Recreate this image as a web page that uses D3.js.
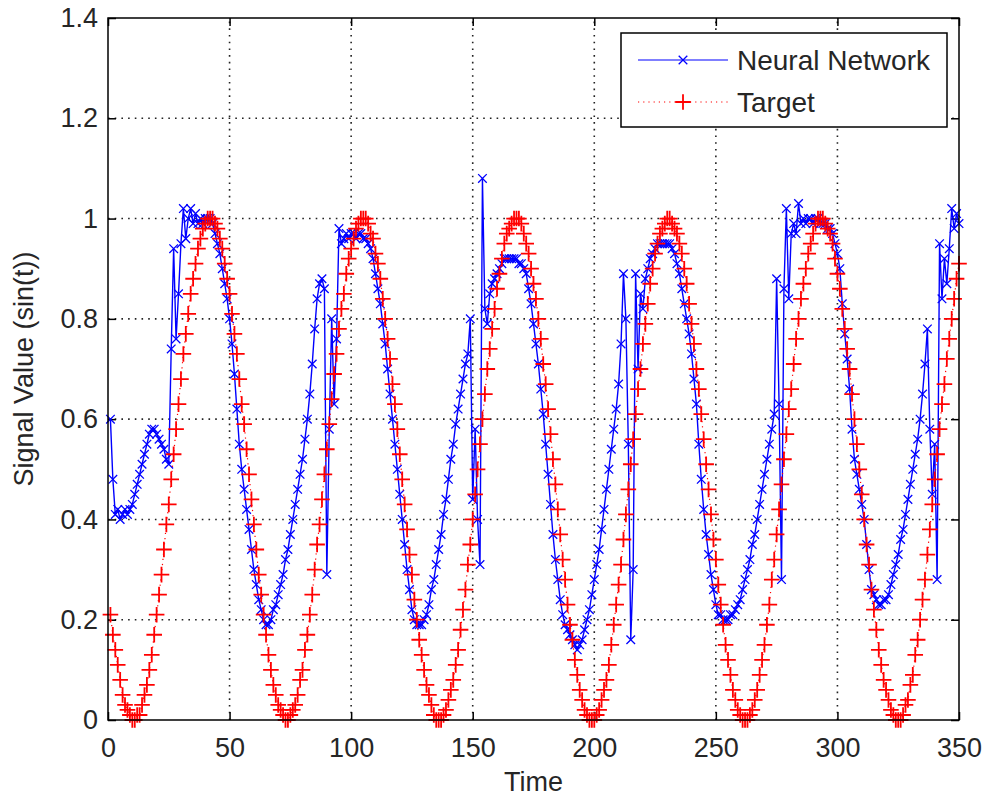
<!DOCTYPE html>
<html><head><meta charset="utf-8">
<script src="https://cdn.jsdelivr.net/npm/d3@7"></script>
<style>
body{margin:0;background:#fff}
svg{display:block}
text{font-family:"Liberation Sans",Arial,Helvetica,sans-serif;fill:#262626}
</style>
</head><body>
<svg id="chart" width="989" height="802"></svg>
<script>
// ---------- data ----------
const timeSteps = d3.range(1, 351);

const neuralNetwork = [
0.60,0.48,0.41,0.42,0.40,0.41,0.42,0.41,0.42,0.43,
0.45,0.47,0.49,0.51,0.53,0.55,0.57,0.58,0.58,0.57,
0.56,0.55,0.54,0.52,0.51,0.74,0.94,0.76,0.85,0.95,
1.02,0.96,1.00,1.02,0.99,1.01,0.99,1.00,0.99,1.00,
1.00,1.00,0.99,0.97,0.95,0.93,0.90,0.87,0.84,0.80,
0.75,0.69,0.62,0.55,0.50,0.46,0.42,0.38,0.34,0.30,
0.27,0.24,0.22,0.20,0.19,0.19,0.20,0.22,0.23,0.25,
0.27,0.29,0.32,0.34,0.37,0.40,0.43,0.46,0.49,0.52,
0.56,0.60,0.65,0.71,0.78,0.84,0.87,0.88,0.86,0.29,
0.58,0.80,0.63,0.76,0.98,0.95,0.96,0.97,0.96,0.97,
0.97,0.96,0.97,0.97,0.96,0.96,0.95,0.94,0.92,0.89,
0.86,0.83,0.79,0.75,0.70,0.65,0.60,0.55,0.50,0.45,
0.40,0.35,0.30,0.26,0.22,0.20,0.19,0.19,0.19,0.20,
0.21,0.23,0.26,0.28,0.31,0.34,0.37,0.41,0.44,0.48,
0.52,0.55,0.59,0.62,0.65,0.68,0.71,0.73,0.80,0.44,
0.58,0.40,0.31,1.08,0.82,0.79,0.85,0.87,0.88,0.89,
0.90,0.91,0.92,0.92,0.92,0.92,0.92,0.92,0.91,0.91,
0.90,0.89,0.86,0.83,0.79,0.75,0.71,0.66,0.61,0.55,
0.49,0.43,0.37,0.32,0.28,0.24,0.21,0.19,0.18,0.17,
0.16,0.15,0.14,0.15,0.16,0.18,0.20,0.22,0.25,0.28,
0.31,0.34,0.38,0.42,0.46,0.50,0.54,0.58,0.62,0.67,
0.75,0.89,0.80,0.55,0.16,0.30,0.89,0.70,0.85,0.82,
0.88,0.90,0.92,0.93,0.94,0.95,0.95,0.95,0.95,0.95,
0.95,0.94,0.93,0.91,0.89,0.86,0.83,0.80,0.77,0.73,
0.68,0.63,0.55,0.48,0.42,0.37,0.33,0.29,0.26,0.23,
0.21,0.21,0.20,0.20,0.20,0.21,0.21,0.22,0.23,0.24,
0.26,0.28,0.30,0.32,0.35,0.37,0.40,0.43,0.46,0.49,
0.52,0.55,0.58,0.61,0.88,0.63,0.28,0.86,1.02,0.84,
0.97,0.99,0.97,1.03,0.99,1.00,0.99,1.00,1.00,0.99,
1.00,1.00,0.99,0.99,0.99,0.98,0.98,0.97,0.95,0.93,
0.90,0.83,0.77,0.72,0.66,0.58,0.52,0.49,0.46,0.43,
0.40,0.35,0.30,0.26,0.25,0.24,0.23,0.23,0.24,0.24,
0.25,0.27,0.29,0.31,0.33,0.36,0.38,0.41,0.44,0.47,
0.50,0.53,0.56,0.60,0.65,0.71,0.78,0.58,0.45,0.55,
0.28,0.95,0.84,0.92,0.87,0.94,1.02,0.98,1.01,0.99
];

const target = [
0.21,0.17,0.14,0.11,0.08,0.05,0.03,0.02,0.01,0.00,
0.00,0.01,0.01,0.03,0.05,0.07,0.10,0.13,0.17,0.21,
0.25,0.29,0.34,0.39,0.43,0.48,0.53,0.58,0.63,0.68,
0.73,0.77,0.81,0.85,0.88,0.91,0.94,0.96,0.98,0.99,
1.00,1.00,1.00,0.99,0.98,0.96,0.94,0.91,0.88,0.85,
0.81,0.77,0.73,0.68,0.63,0.59,0.54,0.49,0.44,0.39,
0.34,0.29,0.25,0.21,0.17,0.13,0.10,0.07,0.05,0.03,
0.02,0.01,0.00,0.00,0.01,0.02,0.03,0.05,0.08,0.10,
0.14,0.17,0.21,0.25,0.30,0.35,0.39,0.44,0.49,0.54,
0.59,0.64,0.69,0.73,0.78,0.82,0.85,0.89,0.92,0.94,
0.96,0.98,0.99,1.00,1.00,1.00,0.99,0.97,0.96,0.93,
0.91,0.88,0.84,0.80,0.76,0.72,0.67,0.63,0.58,0.53,
0.48,0.43,0.38,0.33,0.29,0.24,0.20,0.16,0.13,0.10,
0.07,0.05,0.03,0.01,0.00,0.00,0.00,0.01,0.02,0.04,
0.06,0.08,0.11,0.14,0.18,0.22,0.26,0.31,0.35,0.40,
0.45,0.50,0.55,0.60,0.65,0.70,0.74,0.78,0.82,0.86,
0.89,0.92,0.95,0.97,0.98,0.99,1.00,1.00,1.00,0.99,
0.97,0.95,0.93,0.90,0.87,0.84,0.80,0.76,0.71,0.67,
0.62,0.57,0.52,0.47,0.42,0.37,0.32,0.28,0.23,0.19,
0.16,0.12,0.09,0.06,0.04,0.02,0.01,0.00,0.00,0.00,
0.01,0.02,0.04,0.06,0.08,0.11,0.15,0.19,0.23,0.27,
0.31,0.36,0.41,0.46,0.51,0.56,0.61,0.66,0.70,0.75,
0.79,0.83,0.87,0.90,0.93,0.95,0.97,0.98,0.99,1.00,
1.00,0.99,0.98,0.97,0.95,0.93,0.90,0.87,0.83,0.79,
0.75,0.70,0.66,0.61,0.56,0.51,0.46,0.41,0.36,0.32,
0.27,0.23,0.19,0.15,0.12,0.09,0.06,0.04,0.02,0.01,
0.00,0.00,0.00,0.01,0.02,0.04,0.06,0.09,0.12,0.15,
0.19,0.23,0.28,0.32,0.37,0.42,0.47,0.52,0.57,0.62,
0.66,0.71,0.76,0.80,0.84,0.87,0.90,0.93,0.95,0.97,
0.99,1.00,1.00,1.00,0.99,0.98,0.97,0.95,0.92,0.89,
0.86,0.82,0.78,0.74,0.70,0.65,0.60,0.55,0.50,0.45,
0.40,0.35,0.31,0.26,0.22,0.18,0.14,0.11,0.08,0.06,
0.04,0.02,0.01,0.00,0.00,0.00,0.01,0.03,0.04,0.07,
0.09,0.13,0.16,0.20,0.24,0.28,0.33,0.38,0.43,0.48,
0.53,0.58,0.63,0.67,0.72,0.76,0.80,0.84,0.88,0.91
];

const xTicks = [0, 50, 100, 150, 200, 250, 300, 350];
const yTicks = [0, 0.2, 0.4, 0.6, 0.8, 1.0, 1.2, 1.4];
const yTickLabels = ["0", "0.2", "0.4", "0.6", "0.8", "1", "1.2", "1.4"];
const seriesNames = ["Neural Network", "Target"];
const xLabel = "Time";
const yLabel = "Signal Value (sin(t))";

// ---------- layout ----------
const L = 108, R = 959, T = 18, B = 720;
const FONT = 27;
const svg = d3.select("#chart");
const x = d3.scaleLinear().domain([0, 350]).range([L, R]);
const y = d3.scaleLinear().domain([0, 1.4]).range([B, T]);

// grid
const grid = svg.append("g").attr("stroke", "#222").attr("stroke-width", 1.6)
  .attr("stroke-dasharray", "1.6,5.1").attr("stroke-linecap", "butt");
xTicks.filter(v => v > 0 && v < 350).forEach(v => {
  grid.append("line").attr("x1", x(v)).attr("x2", x(v)).attr("y1", B).attr("y2", T);
});
yTicks.filter(v => v > 0 && v < 1.4).forEach(v => {
  grid.append("line").attr("x1", L).attr("x2", R).attr("y1", y(v)).attr("y2", y(v));
});

// axes (inward ticks on all sides)
const fmtY = d => yTickLabels[yTicks.indexOf(d)];
const gx = svg.append("g").attr("transform", `translate(0,${B})`)
  .call(d3.axisBottom(x).tickValues(xTicks).tickSizeInner(-8).tickSizeOuter(0).tickPadding(18).tickFormat(d3.format("d")));
const gy = svg.append("g").attr("transform", `translate(${L},0)`)
  .call(d3.axisLeft(y).tickValues(yTicks).tickSizeInner(-8).tickSizeOuter(0).tickPadding(10).tickFormat(fmtY));
const gt = svg.append("g").attr("transform", `translate(0,${T})`)
  .call(d3.axisTop(x).tickValues(xTicks).tickSizeInner(-8).tickSizeOuter(0).tickFormat(""));
const gr = svg.append("g").attr("transform", `translate(${R},0)`)
  .call(d3.axisRight(y).tickValues(yTicks).tickSizeInner(-8).tickSizeOuter(0).tickFormat(""));
[gx, gy, gt, gr].forEach(g => {
  g.select(".domain").remove();
  g.selectAll(".tick line").attr("stroke", "#000").attr("stroke-width", 1.5);
  g.selectAll("text").attr("font-size", FONT).attr("fill", "#262626")
   .attr("font-family", '"Liberation Sans",Arial,sans-serif');
});

// data series
const nnData = timeSteps.map((t, i) => ({t, v: neuralNetwork[i]}));
const tgData = timeSteps.map((t, i) => ({t, v: target[i]}));
const line = d3.line().x(d => x(d.t)).y(d => y(d.v));

const xMark = s => `M${-s},${-s}L${s},${s}M${-s},${s}L${s},${-s}`;
const plusMark = s => `M${-s},0L${s},0M0,${-s}L0,${s}`;

const plot = svg.append("g");
// Neural network: solid blue line with x markers
plot.append("path").datum(nnData).attr("d", line)
  .attr("fill", "none").attr("stroke", "#0000ff").attr("stroke-width", 1.4);
plot.append("g").selectAll("path").data(nnData).join("path")
  .attr("transform", d => `translate(${x(d.t)},${y(d.v)})`)
  .attr("d", xMark(4.3)).attr("fill", "none").attr("stroke", "#0000ff").attr("stroke-width", 1.3);

// Target: dotted red line with + markers
plot.append("path").datum(tgData).attr("d", line)
  .attr("fill", "none").attr("stroke", "#ff0000").attr("stroke-width", 1.2).attr("stroke-dasharray", "1.2,4");
plot.append("g").selectAll("path").data(tgData).join("path")
  .attr("transform", d => `translate(${x(d.t)},${y(d.v)})`)
  .attr("d", plusMark(7.8)).attr("fill", "none").attr("stroke", "#ff0000").attr("stroke-width", 1.8);

// axes box
svg.append("rect").attr("x", L).attr("y", T).attr("width", R - L).attr("height", B - T)
  .attr("fill", "none").attr("stroke", "#000").attr("stroke-width", 1.5);

// axis labels
svg.append("text").attr("x", (L + R) / 2).attr("y", 791).attr("text-anchor", "middle")
  .attr("font-size", FONT).text(xLabel);
svg.append("text").attr("transform", `translate(33,${(T + B) / 2}) rotate(-90)`)
  .attr("text-anchor", "middle").attr("font-size", FONT).text(yLabel);

// legend
const lg = svg.append("g");
lg.append("rect").attr("x", 621).attr("y", 33).attr("width", 326).attr("height", 94)
  .attr("fill", "#fff").attr("stroke", "#000").attr("stroke-width", 1.5);
const rows = [
  {name: seriesNames[0], y: 60, color: "#0000ff", dash: null, mark: xMark(4.3), mw: 1.3},
  {name: seriesNames[1], y: 102, color: "#ff0000", dash: "1.2,4", mark: plusMark(7.8), mw: 1.8}
];
rows.forEach(r => {
  lg.append("line").attr("x1", 638).attr("x2", 728).attr("y1", r.y).attr("y2", r.y)
    .attr("stroke", r.color).attr("stroke-width", 1.2).attr("stroke-dasharray", r.dash);
  lg.append("path").attr("transform", `translate(683,${r.y})`).attr("d", r.mark)
    .attr("fill", "none").attr("stroke", r.color).attr("stroke-width", r.mw);
  lg.append("text").attr("x", 737).attr("y", r.y + 10).attr("font-size", 28).text(r.name);
});
</script>
</body></html>
